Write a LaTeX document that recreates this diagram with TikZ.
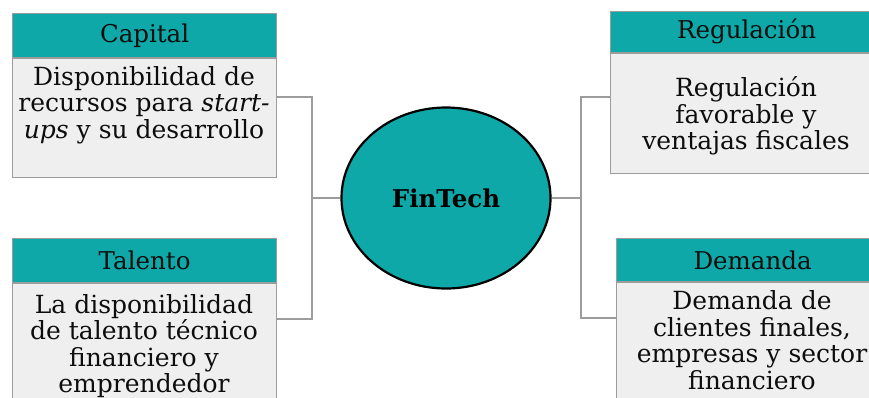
\documentclass[tikz,border=0pt]{standalone}
\usepackage{fontspec}
\setmainfont{DejaVu Serif}
\usetikzlibrary{shapes.geometric}
\definecolor{teal}{HTML}{0FA8A8}
\definecolor{boxfill}{HTML}{EFEFEF}
\definecolor{edge}{HTML}{9C9C9C}
\tikzset{
  head/.style={rectangle, draw=edge, line width=1.2pt, fill=teal, inner sep=0pt,
    font=\fontsize{24.5}{27}\selectfont, text=black!95},
  bodybox/.style={rectangle, draw=edge, line width=1.2pt, fill=boxfill, inner sep=0pt},
  bodytext/.style={align=center, inner sep=0pt, font=\fontsize{25}{26.5}\selectfont, text=black!95},
  link/.style={draw=edge, line width=1.3pt},
  hub/.style={ellipse, draw=black, line width=2.2pt, fill=teal,
    minimum width=209pt, minimum height=181pt, font=\bfseries\fontsize{24.5}{27}\selectfont}
}
\begin{document}
\begin{tikzpicture}[x=1pt,y=-1pt]
\clip (0,0) rectangle (869,397);
\fill[white] (0,0) rectangle (869,397);

% centre
\node[hub] (fin) at (446,198) {FinTech};

% Capital
\node[bodybox, minimum width=264pt, minimum height=119pt, anchor=north west] (capb) at (12,58) {};
\node[head, minimum width=264pt, minimum height=44pt, anchor=south west] (caph) at (12,58) {Capital};
\node[bodytext] (capt) at (144,105) {Disponibilidad de\\recursos para \textit{start-}\\\textit{ups} y su desarrollo};

% Talento
\node[bodybox, minimum width=264pt, minimum height=130pt, anchor=north west] (talb) at (12,283) {};
\node[head, minimum width=264pt, minimum height=44pt, anchor=south west] (talh) at (12,283) {Talento};
\node[bodytext] (talt) at (144,346) {La disponibilidad\\de talento técnico\\financiero y\\emprendedor};

% Regulación
\node[bodybox, minimum width=272pt, minimum height=120pt, anchor=north west] (regb) at (610,53) {};
\node[head, minimum width=272pt, minimum height=41pt, anchor=south west] (regh) at (610,53) {Regulación};
\node[bodytext] (regt) at (746,116) {Regulación\\favorable y\\ventajas fiscales};

% Demanda
\node[bodybox, minimum width=272pt, minimum height=130pt, anchor=north west] (demb) at (616,282) {};
\node[head, minimum width=272pt, minimum height=43pt, anchor=south west] (demh) at (616,282) {Demanda};
\node[bodytext] (demt) at (752,340) {Demanda de\\clientes finales,\\empresas y sector\\financiero};

% junctions
\coordinate (jl) at (312,198);
\coordinate (jr) at (581,198);

% connectors
\draw[link] ([yshift=-39pt]capb.north east) -| (jl);
\draw[link] ([yshift=-36pt]talb.north east) -| (jl);
\draw[link] (jl) -- (fin.west);
\draw[link] ([yshift=-44pt]regb.north west) -| (jr);
\draw[link] ([yshift=-36pt]demb.north west) -| (jr);
\draw[link] (fin.east) -- (jr);
\end{tikzpicture}
\end{document}
